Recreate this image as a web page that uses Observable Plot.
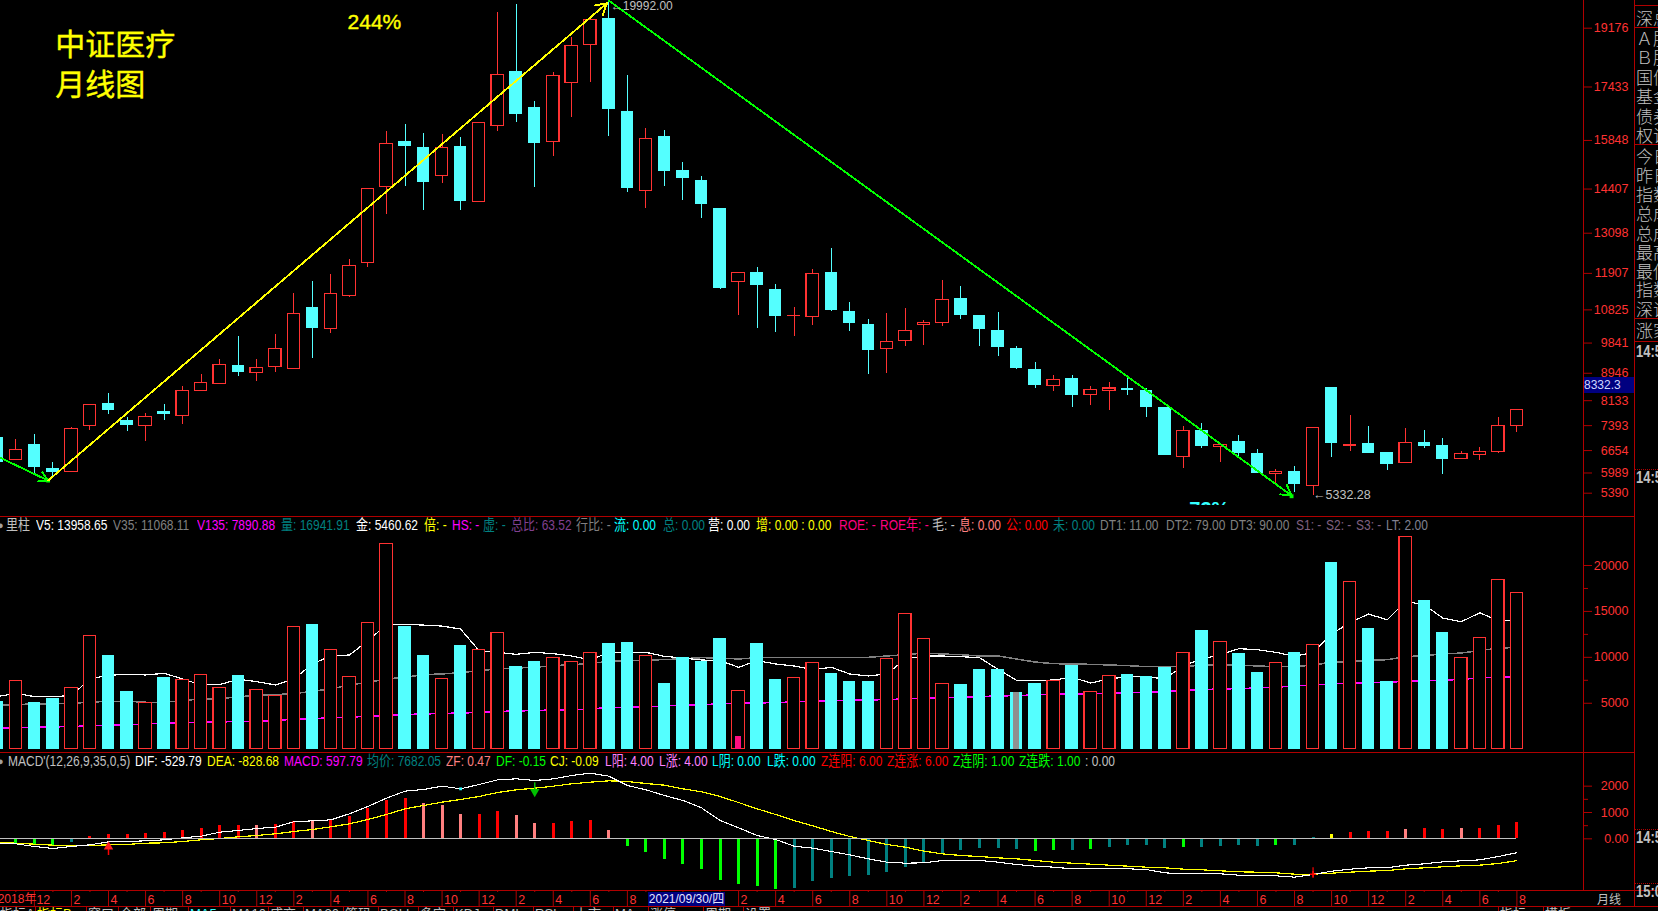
<!DOCTYPE html>
<html><head><meta charset="utf-8">
<script src="https://cdn.jsdelivr.net/npm/d3@7"></script>
<script src="https://cdn.jsdelivr.net/npm/@observablehq/plot@0.6"></script>
<style>
html,body{margin:0;padding:0;background:#000;overflow:hidden}
#page{position:relative;width:1658px;height:911px;background:#000;overflow:hidden;font-family:"Liberation Sans","Noto Sans CJK SC",sans-serif}
#page svg{position:absolute;left:0}
.t{position:absolute;white-space:nowrap;line-height:1}
.l{position:absolute;background:#b00000}
</style></head><body><div id="page"></div>
<script>
const periods = d3.range(-1, 82);
const open = [7052,6380,6834,6122,6024,7388,8050,7546,7388,7812,7684,8425,8633,9176,8959,9137,9077,10896,10253,11232,12220,14473,15817,15639,14799,15669,14028,16281,17892,16825,15797,17556,18683,19463,16706,14354,15965,14957,14661,13831,11647,11933,11429,10639,10619,11933,10777,10392,9660,9907,10382,10441,11162,10659,10214,9680,9058,8573,8791,8307,8425,8494,8435,7931,6469,7249,6765,6923,6567,5965,6034,5609,8524,6805,6864,6597,6291,6894,6805,6399,6518,6617,7388];
const close = [6310,6666,6162,6014,7299,8010,7852,7407,7654,7724,8425,8662,9196,8979,9107,9670,10708,10283,11301,12131,14414,15748,15679,14611,15629,14048,16370,17793,16627,15768,17764,18653,19424,16775,14433,15896,14937,14730,13959,11469,11923,11558,10639,10649,11894,10807,10431,9631,9878,10204,10441,11123,10668,10253,9720,9087,8593,8751,8297,8455,8494,8445,7941,6518,7239,6785,6824,6577,5984,6024,5658,7329,6874,6824,6577,6251,6884,6785,6399,6557,6617,7388,7862];
const high = [7052,6973,7131,6301,7329,8010,8346,7645,7743,8020,8554,8909,9344,10036,9344,10095,11301,11666,11874,12319,14414,16113,16321,16054,16024,15935,16370,19641,19878,17003,17862,18910,19424,19992,17774,16202,16143,15194,14779,13831,11923,12082,11578,10896,12022,12645,11044,10540,10718,10866,10510,11696,11518,10659,10747,9739,9265,8880,8880,8554,8672,8830,8484,7931,7368,7457,6854,7101,6686,6093,6182,7329,8524,7694,7368,6597,7309,7249,7012,6627,6735,7635,7862];
const low = [6310,6380,5965,5816,6024,7249,7724,7229,6933,7556,7437,8415,8623,8850,8712,8979,9077,9384,10135,11202,12091,13663,14483,13771,14572,13771,14028,16123,16380,14453,15372,16528,17566,15965,14305,13831,14483,14068,13534,11429,10659,10273,10155,10046,10362,10787,10184,8909,8939,9739,9769,10342,10540,9739,9443,9067,8494,8405,7931,7990,7842,8287,7635,6508,6122,6716,6301,6478,5965,5668,5401,5332,6449,6627,6577,6063,6271,6716,5945,6389,6360,6577,7190];
const volume = [5181,7427,5072,5507,6666,12318,10181,6268,5036,7753,7536,8079,6666,8007,6449,5797,13296,13550,10797,7862,13731,22318,13333,10181,7645,11268,10797,12644,8985,9528,9927,9492,10470,11485,11594,10144,7137,9963,9565,12028,6340,11485,7572,7753,9384,8224,7355,7355,9818,14709,11992,7101,7029,8659,8659,6159,7137,7391,9094,6232,7971,8116,7898,8913,10470,12898,11666,10398,8333,9384,10507,11340,20289,18187,13115,7355,23079,16159,12680,9927,12101,18405,16992];
const v5 = [5724,6087,5724,5724,5833,7645,8043,8152,8079,8260,7645,6992,7029,7608,7355,6992,7645,9275,10181,10253,11811,13550,13586,13514,13405,13079,10724,10543,10326,10543,10398,10144,9746,10507,10579,10543,10108,9927,9710,9637,8913,9637,9275,9058,8659,8913,8188,7971,8188,9818,10144,10144,10072,9963,8695,7500,7463,7536,7826,7210,7645,7898,7898,7645,9094,9818,10289,10941,10833,10543,10108,10543,12536,13804,14709,14093,16086,15724,14275,13876,14854,13985,13958];
const v35 = [4746,4855,4927,4927,5000,5108,5217,5217,5108,5108,5290,5471,5471,5724,5833,5942,6050,6304,6558,6992,7282,7645,7826,8116,8188,8333,8550,8731,8840,8913,9094,9202,9311,9565,9637,9710,9746,9855,9963,9927,9818,9963,9963,10000,10000,10000,10000,10000,10144,10289,10470,10362,10289,10144,10144,9818,9492,9311,9275,9239,9166,9094,8985,8985,9021,9130,9202,9166,9058,8985,9021,9130,9492,9528,9673,9746,10072,10181,10362,10470,10724,11014,11068];
const v135 = [2319,2319,2391,2427,2464,2536,2609,2645,2753,2826,2862,2935,2971,3007,3007,3116,3261,3333,3406,3478,3587,3659,3768,3840,3877,3949,3985,4094,4166,4203,4275,4275,4384,4529,4565,4601,4710,4782,4855,4927,5000,5036,5072,5145,5217,5290,5326,5362,5398,5471,5543,5579,5652,5724,5797,5833,5905,5978,6014,6050,6087,6159,6195,6268,6376,6485,6558,6594,6666,6739,6884,6992,7101,7174,7246,7282,7391,7463,7500,7608,7753,7862,7890];
const macd = [null,-177,-253,-291,-152,89,165,165,190,241,317,392,506,506,506,544,646,671,734,848,1152,1456,1532,1342,1266,924,924,1038,886,582,582,658,696,317,-291,-519,-785,-975,-1165,-1583,-1734,-1810,-1924,-1886,-1620,-1507,-1431,-1393,-1279,-1089,-899,-595,-443,-367,-367,-405,-481,-443,-443,-405,-329,-253,-253,-367,-329,-329,-291,-253,-291,-253,-253,51,165,241,279,279,354,392,354,392,392,506,620];
const macdHue = "tgggtrrrrrrrrrprrprrrrrppprrpprrrpgggggggggtttttttttttttggtgttttgttttgttyrrrprrprrrr".split("");
const dif = [-165,-190,-291,-367,-291,-228,-114,-101,-76,-38,38,101,253,317,392,443,646,684,722,950,1228,1545,1810,1874,2000,1899,2064,2241,2279,2216,2279,2405,2494,2380,2026,1861,1646,1456,1177,696,418,127,-25,-279,-354,-481,-608,-760,-886,-924,-912,-823,-823,-823,-886,-975,-1038,-1076,-1139,-1139,-1139,-1139,-1165,-1291,-1329,-1329,-1329,-1380,-1405,-1405,-1456,-1355,-1228,-1152,-1101,-1101,-1000,-950,-874,-836,-798,-671,-530];
const dea = [-139,-165,-203,-241,-253,-253,-228,-215,-165,-152,-101,-38,13,76,127,190,279,354,456,570,734,924,1139,1266,1393,1494,1608,1760,1861,1924,2000,2089,2152,2203,2178,2102,2038,1899,1785,1608,1380,1139,924,696,494,279,89,-63,-215,-317,-468,-570,-633,-671,-722,-760,-823,-886,-924,-962,-1000,-1038,-1076,-1101,-1152,-1177,-1215,-1253,-1266,-1291,-1342,-1342,-1304,-1266,-1228,-1203,-1139,-1101,-1063,-1025,-1000,-937,-829];
const priceTicks = [19176,17433,15848,14407,13098,11907,10825,9841,8946,8133,7393,6654,5989,5390];
const volTicks = [20000,15000,10000,5000];
const volMinor = [17500,12500,7500];
const macdTicks = [2000,1000,0];
const macdMinor = [1500,500];
const monthPeriods = [1,3,5,7,9,11,13,15,17,19,21,23,25,27,29,31,33,39,41,43,45,47,49,51,53,55,57,59,61,63,65,67,69,71,73,75,77,79,81];
const monthLabels = ["12","2","4","6","8","10","12","2","4","6","8","10","12","2","4","6","8","2","4","6","8","10","12","2","4","6","8","10","12","2","4","6","8","10","12","2","4","6","8"];
const oddPeriods = d3.range(0,82,2);
const volHead = [[6,"里柱","#c0c0c0"],[36,"V5: 13958.65","#fff"],[113,"V35: 11068.11","#808080"],[197,"V135: 7890.88","#ff00ff"],[281,"量: 16941.91","#008080"],[356,"金: 5460.62","#fff"],[424,"倍: -","#ffff00"],[452,"HS: -","#ff00ff"],[483,"虚: -","#008080"],[511,"总比: 63.52","#804090"],[576,"行比: -","#808080"],[614,"流: 0.00","#00ffff"],[663,"总: 0.00","#008080"],[708,"营: 0.00","#fff"],[756,"增: 0.00 : 0.00","#ffff00"],[839,"ROE: -","#ff0080"],[880,"ROE年: -","#ff0080"],[932,"毛: -","#c0c0c0"],[959,"息: 0.00","#ff8080"],[1006,"公: 0.00","#ff0000"],[1053,"未: 0.00","#008080"],[1100,"DT1: 11.00","#808080"],[1166,"DT2: 79.00","#808080"],[1230,"DT3: 90.00","#808080"],[1296,"S1: -","#806080"],[1326,"S2: -","#806080"],[1356,"S3: -","#806080"],[1386,"LT: 2.00","#808090"]];
const macdHead = [[8,"MACD'(12,26,9,35,0,5)","#c0c0c0"],[135,"DIF: -529.79","#fff"],[207,"DEA: -828.68","#ffff00"],[284,"MACD: 597.79","#ff00ff"],[367,"均价: 7682.05","#008080"],[446,"ZF: 0.47","#ff8080"],[496,"DF: -0.15","#00ff00"],[550,"CJ: -0.09","#ffff00"],[605,"L阳: 4.00","#ff80ff"],[659,"L涨: 4.00","#ff80ff"],[712,"L阴: 0.00","#00ffff"],[767,"L跌: 0.00","#00ffff"],[821,"Z连阳: 6.00","#ff0000"],[887,"Z连涨: 6.00","#ff0000"],[953,"Z连阴: 1.00","#00ff00"],[1019,"Z连跌: 1.00","#00ff00"],[1085,": 0.00","#c0c0c0"]];
const sideLabels = [[17,"深总"],[37,"Ａ股"],[56,"Ｂ股"],[76,"国债"],[95,"基金"],[115,"债券"],[134,"权证"],[155,"今日"],[174,"昨日"],[193,"指数"],[212,"总成"],[232,"总成"],[251,"最高"],[270,"最低"],[288,"指数"],[308,"深证"],[329,"涨家"]];
const sideTimes = [[352,"14:59"],[478,"14:59"],[838,"14:59"],[892,"15:00"]];

const RED="#ff3232", CYAN="#54ffff", AXIS="#b00000";
const W=1658;
const rows = periods.map((p,k)=>({p,open:open[k],close:close[k],high:high[k],low:low[k],volume:volume[k],v5:v5[k],v35:v35[k],v135:v135[k],macd:macd[k],hue:macdHue[k],dif:dif[k],dea:dea[k],up:close[k]>=open[k]}));
const upRows = rows.filter(d=>d.up), downRows = rows.filter(d=>!d.up);
const hueColor = {r:"#ff0000",p:"#ff8080",g:"#00ff00",t:"#008080",y:"#ffff00"};
const xScale = {domain:[-1,81],range:[-3.18,1516.4]};
const NUMFONT='"Liberation Sans",sans-serif';
const CRISP={shapeRendering:"crispEdges"};
const page = document.getElementById("page");
function place(svg,top){svg.style.top=top+"px";svg.style.position="absolute";page.appendChild(svg);}
const base = {width:W,marginLeft:0,marginRight:75,marginTop:0,marginBottom:0,x:{...xScale,axis:null},style:{background:"transparent",color:"#fff"}};
const hw=0.335;
const axisText={anchor:"right",tickSize:8,tickPadding:37,textAnchor:"end",stroke:AXIS,fill:RED,label:null,fontSize:12.5,fontFamily:NUMFONT};

// Price panel
place(Plot.plot({...base,height:505,y:{domain:[19176,5390],range:[27.7,492.7],axis:null},marks:[
  Plot.axisY(priceTicks,{...axisText,tickFormat:d=>String(d)}),
  Plot.ruleX(rows,{x:"p",y1:"low",y2:"high",stroke:d=>d.up?RED:CYAN,strokeWidth:1,...CRISP}),
  Plot.rect(upRows,{x1:d=>d.p-hw,x2:d=>d.p+hw,y1:"open",y2:"close",fill:"#000",stroke:RED,strokeWidth:1.2,...CRISP}),
  Plot.rect(downRows,{x1:d=>d.p-hw,x2:d=>d.p+hw,y1:"open",y2:"close",fill:CYAN,...CRISP}),
  Plot.arrow([{a:-0.83,b:6438,c:1.74,d:5765}],{x1:"a",y1:"b",x2:"c",y2:"d",bend:0,stroke:"#00ff00",strokeWidth:1.9,headLength:8,...CRISP}),
  Plot.dot([{x:1.74,y:5765}],{x:"x",y:"y",r:2.2,symbol:"square",fill:"#00ff00"}),
  Plot.arrow([{a:1.74,b:5765,c:31.9,d:19917}],{x1:"a",y1:"b",x2:"c",y2:"d",bend:0,stroke:"#ffff00",strokeWidth:1.9,headLength:10,...CRISP}),
  Plot.arrow([{a:32,b:19992,c:68.84,d:5321}],{x1:"a",y1:"b",x2:"c",y2:"d",bend:0,stroke:"#00ff00",strokeWidth:1.9,headLength:9,...CRISP}),
  Plot.dot([{x:68.84,y:5300}],{x:"x",y:"y",r:2.2,symbol:"square",fill:"#00ff00"}),
  Plot.text([{x:32.1,y:19992,t:"←19992.00"}],{x:"x",y:"y",text:"t",textAnchor:"start",fill:"#c0c0c0",fontSize:12,fontFamily:NUMFONT,dy:5}),
  Plot.text([{x:70,y:5332,t:"←5332.28"}],{x:"x",y:"y",text:"t",textAnchor:"start",fill:"#c0c0c0",fontSize:12.5,fontFamily:NUMFONT}),
  Plot.text([{x:64.4,y:4906,t:"73%"}],{x:"x",y:"y",text:"t",fill:"#33ffff",fontSize:20,fontWeight:"bold",fontFamily:"Liberation Sans"}),
  Plot.text([{x:19.35,y:19344,t:"244%"}],{x:"x",y:"y",text:"t",fill:"#ffff00",stroke:"#ffff00",strokeWidth:0.4,fontSize:21,fontFamily:"Liberation Sans"}),
  Plot.text([{x:4.5,y:18670,t:"中证医疗"}],{x:"x",y:"y",text:"t",textAnchor:"start",fill:"#ffff00",stroke:"#ffff00",strokeWidth:0.4,fontSize:30,fontFamily:"Noto Sans CJK SC",dx:-44}),
  Plot.text([{x:4.5,y:17480,t:"月线图"}],{x:"x",y:"y",text:"t",textAnchor:"start",fill:"#ffff00",stroke:"#ffff00",strokeWidth:0.4,fontSize:30,fontFamily:"Noto Sans CJK SC",dx:-44})
]}),0);

// Volume panel
place(Plot.plot({...base,height:235,y:{domain:[0,20000],range:[231.67,48],axis:null},marks:[
  Plot.axisY(volTicks,{...axisText,tickFormat:d=>String(d)}),
  Plot.axisY(volMinor,{anchor:"right",tickSize:4,tickFormat:()=>"",stroke:AXIS,label:null}),
  Plot.line(rows,{x:"p",y:"v35",stroke:"#808080",strokeWidth:1.5,...CRISP}),
  Plot.line(rows,{x:"p",y:"v5",stroke:"#fff",strokeWidth:1.2,...CRISP}),
  Plot.line(rows,{x:"p",y:"v135",stroke:"#ff00ff",strokeWidth:1.5,...CRISP}),
  Plot.rect(upRows,{x1:d=>d.p-hw,x2:d=>d.p+hw,y1:0,y2:"volume",fill:"#000",stroke:RED,strokeWidth:1.2,...CRISP}),
  Plot.rect(downRows,{x1:d=>d.p-hw,x2:d=>d.p+hw,y1:0,y2:"volume",fill:CYAN,...CRISP}),
  Plot.rect([{p:54,v:6159}],{x1:d=>d.p-0.14,x2:d=>d.p+0.14,y1:0,y2:"v",fill:"#909090",...CRISP}),
  Plot.rect([{p:39,v:1377}],{x1:d=>d.p-0.14,x2:d=>d.p+0.14,y1:0,y2:"v",fill:"#ff0f80",...CRISP})
]}),517);

// MACD panel
const macdRows = rows.filter(d=>d.macd!=null);
place(Plot.plot({...base,height:137,y:{domain:[0,2000],range:[85.33,32.67],axis:null},marks:[
  Plot.axisY(macdTicks,{...axisText,tickFormat:d=>d===0?"0.00":String(d)}),
  Plot.axisY(macdMinor,{anchor:"right",tickSize:4,tickFormat:()=>"",stroke:AXIS,label:null}),
  Plot.ruleX(macdRows,{x:"p",y1:0,y2:"macd",stroke:d=>hueColor[d.hue],strokeWidth:3,...CRISP}),
  Plot.line(rows,{x:"p",y:"dea",stroke:"#ffff00",strokeWidth:1.2,...CRISP}),
  Plot.line(rows,{x:"p",y:"dif",stroke:"#fff",strokeWidth:1.1,...CRISP}),
  Plot.ruleY([0],{x1:-1,x2:81,stroke:"#c0c0c0",strokeWidth:1.2,...CRISP}),
  Plot.ruleX([{x:5,a:-633,b:-300}],{x:"x",y1:"a",y2:"b",stroke:"#ff0000",strokeWidth:1.5}),
  Plot.dot([{x:5,y:-300}],{x:"x",y:"y",r:3.5,symbol:"triangle",fill:"#ff2020"}),
  Plot.ruleX([{x:28,a:2127,b:1800}],{x:"x",y1:"a",y2:"b",stroke:"#00c000",strokeWidth:1.5}),
  Plot.dot([{x:28,y:1790}],{x:"x",y:"y",r:3.5,symbol:"triangle",rotate:180,fill:"#00c000"}),
  Plot.ruleX([{x:70,a:-1101,b:-1494}],{x:"x",y1:"a",y2:"b",stroke:"#ff0000",strokeWidth:1.2}),
  Plot.dot([{x:70,y:-1342}],{x:"x",y:"y",r:2.2,symbol:"plus",stroke:"#ff0000"}),
  Plot.dot([{x:24,y:1899}],{x:"x",y:"y",r:1.6,symbol:"square",fill:"#33ffff"})
]}),753);

// Time axis strip
const monthRows = monthPeriods.map((p,k)=>({p,t:monthLabels[k]}));
place(Plot.plot({...base,height:16,y:{domain:[0,1],range:[16,0],axis:null},marks:[
  Plot.axisX(oddPeriods,{anchor:"top",tickSize:3,tickFormat:()=>"",stroke:AXIS,label:null,fontSize:1}),
  Plot.ruleX(monthRows,{x:"p",stroke:AXIS}),
  Plot.text(monthRows,{x:"p",frameAnchor:"middle",dx:2,textAnchor:"start",text:"t",fill:RED,fontSize:12.5,fontFamily:NUMFONT}),
  Plot.text([{p:1,t:"2018年"}],{x:"p",frameAnchor:"middle",dx:2,textAnchor:"end",text:"t",fill:RED,fontSize:12,fontFamily:'"Liberation Sans","Noto Sans CJK SC"'})
]}),891);

// Window chrome: separators and labels around the plots
function line(x,y,w,h,extra){const d=document.createElement("div");d.className="l";d.style.cssText=`left:${x}px;top:${y}px;width:${w}px;height:${h}px;`+(extra||"");page.appendChild(d);}
function text(x,y,s,c,size,extra){const d=document.createElement("div");d.className="t";d.textContent=s;d.style.cssText=`left:${x}px;top:${y}px;color:${c};font-size:${size}px;`+(extra||"");page.appendChild(d);}
line(0,516,1634,1);line(0,752,1634,1);line(0,890,1634,1);line(0,906,1658,1);
line(1583,0,1,890);line(1634,0,1,907);
[5,27,144,318,341].forEach(y=>line(1634,y,24,1));
[469,829,883].forEach(y=>line(1634,y,24,0,"border-top:1px dotted #b00000;background:none;"));
line(1634,890,24,1);
const tall="transform:scaleY(1.2);transform-origin:center;";
volHead.forEach(([x,s,c])=>text(x,519,s,c,12,tall));
macdHead.forEach(([x,s,c])=>text(x,755,s,c,12,tall));
text(-3,519.5,"●","#a0a0a0",11);text(-3,755.5,"●","#a0a0a0",11);
sideLabels.forEach(([y,s])=>text(1636,y-8.5,s,"#c0c0c0",17,'font-family:"Noto Sans CJK SC";font-weight:300;'));
sideTimes.forEach(([y,s])=>text(1636,y-7,s,"#c0c0c0",13,'font-weight:bold;transform:scaleY(1.2);transform-origin:center;'));
// value flag and date flag
const f1=document.createElement("div");f1.className="t";f1.textContent="8332.3";f1.style.cssText='left:1584px;top:377px;width:50px;height:16px;line-height:16px;background:#000080;color:#d0d8ff;font-size:12px;';page.appendChild(f1);
const f2=document.createElement("div");f2.className="t";f2.textContent="2021/09/30/四";f2.style.cssText='left:648px;top:892px;width:77px;height:14px;line-height:14px;background:#000080;color:#e8e8ff;font-size:12px;text-align:center;';page.appendChild(f2);
text(1597,891,"月线","#c0c0c0",12,'font-family:"Noto Sans CJK SC";line-height:15px;');
// clipped tool bar
[[0,"指标A","#c0c0c0"],[37,"指标B","#ffff00"],[88,"窗口","#c0c0c0"],[120,"全部","#c0c0c0"],[152,"周期","#c0c0c0"],[190,"MA5","#33ffff"],[232,"MA10","#c0c0c0"],[270,"成交","#c0c0c0"],[305,"MA20","#c0c0c0"],[345,"筹码","#c0c0c0"],[380,"BOLL","#c0c0c0"],[420,"多空","#c0c0c0"],[455,"KDJ","#c0c0c0"],[495,"DMI","#c0c0c0"],[535,"RSI","#c0c0c0"],[575,"上市","#c0c0c0"],[615,"MA","#c0c0c0"],[650,"涨停","#c0c0c0"],[705,"周期","#c0c0c0"],[745,"设置","#c0c0c0"],[1500,"指标","#c0c0c0"],[1545,"模板","#c0c0c0"]].forEach(([x,s,c])=>{text(x,907,s,c,13);line(x-2,906,1,5);});
</script></body></html>
